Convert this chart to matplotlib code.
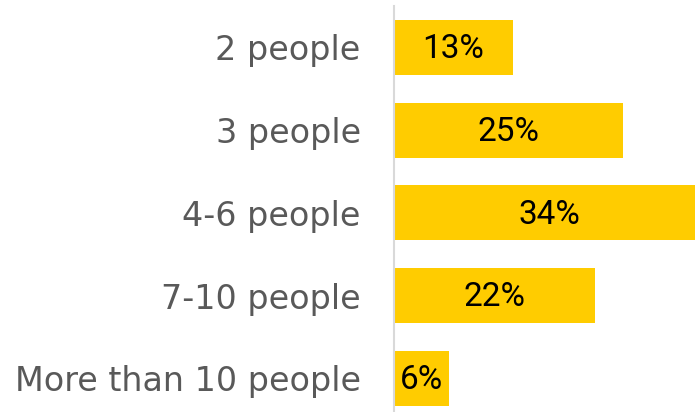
import matplotlib
matplotlib.use("Agg")
import matplotlib.pyplot as plt

# group size categories, top to bottom
categories = ["2 people", "3 people", "4-6 people", "7-10 people", "More than 10 people"]
shares = [13, 25, 34, 22, 6]
share_labels = ["13%", "25%", "34%", "22%", "6%"]

fig = plt.figure(figsize=(6.95, 4.12), dpi=100)
ax = fig.add_axes([394 / 695, 0, 1 - 394 / 695, 1 - 6 / 412])

ypos = list(range(len(categories)))
ax.barh(ypos, shares, height=0.665, color="#FFCC00", zorder=2)

# the longest bar runs past the right edge of the picture
ax.set_xlim(0, 301 / 9.15)
ax.set_ylim(406 / 82.75 - 0.5, -0.5)

for y, v, lab in zip(ypos, shares, share_labels):
    ax.text(v / 2, y + 0.02, lab, ha="center", va="center", fontsize=24,
            family="Roboto", color="black", clip_on=False)

ax.set_yticks(ypos)
ax.set_yticklabels(categories, fontsize=24, color="#595959")
ax.tick_params(axis="y", length=0, pad=24)
ax.set_xticks([])

for s in ["top", "right", "bottom"]:
    ax.spines[s].set_visible(False)
ax.spines["left"].set_color("#D9D9D9")
ax.spines["left"].set_linewidth(1.5)

fig.savefig("out.png", dpi=100)
